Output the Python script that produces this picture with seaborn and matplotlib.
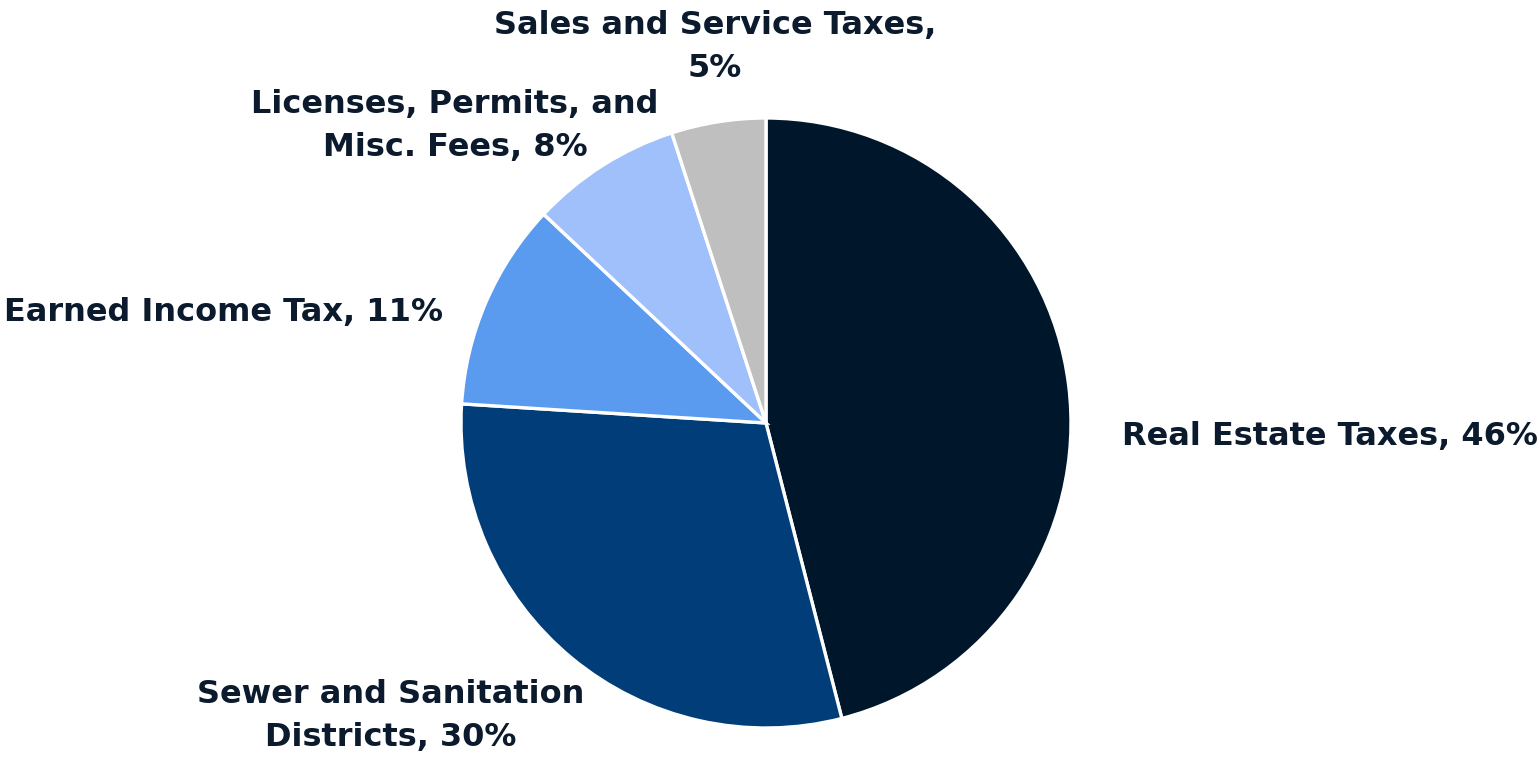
import matplotlib
matplotlib.use("Agg")
import matplotlib.pyplot as plt
import seaborn as sns

sns.set_theme(style="white")
plt.rcParams["font.family"] = ["DejaVu Sans"]

# Revenue sources and their shares (%)
categories = [
    "Real Estate Taxes",
    "Sewer and Sanitation Districts",
    "Earned Income Tax",
    "Licenses, Permits, and Misc. Fees",
    "Sales and Service Taxes",
]
shares = [46, 30, 11, 8, 5]
colors = ["#00172B", "#003D79", "#5B9BEF", "#9FC0FB", "#BFBFBF"]

# Label text as shown beside each wedge
label_texts = [
    "Real Estate Taxes, 46%",
    "Sewer and Sanitation\nDistricts, 30%",
    "Earned Income Tax, 11%",
    "Licenses, Permits, and\nMisc. Fees, 8%",
    "Sales and Service Taxes,\n5%",
]
# Label anchor positions in pixels (x, y from top) and horizontal alignment
label_pos = [
    (1330, 437, "center"),
    (391, 716, "center"),
    (224, 313, "center"),
    (455, 126, "center"),
    (715, 47, "center"),
]

W, H = 1537, 758
fig = plt.figure(figsize=(W / 100, H / 100), dpi=100)
fig.patch.set_facecolor("white")

cx, cy, r = 766, 423, 305
ax = fig.add_axes([(cx - r) / W, (H - cy - r) / H, 2 * r / W, 2 * r / H])
ax.pie(
    shares,
    colors=colors,
    startangle=90,
    counterclock=False,
    radius=1.0,
    wedgeprops=dict(edgecolor="white", linewidth=2.4),
)
ax.set_xlim(-1, 1)
ax.set_ylim(-1, 1)
ax.set_aspect("equal")
ax.axis("off")

for text, (x, y, ha) in zip(label_texts, label_pos):
    fig.text(
        x / W, 1 - y / H, text,
        ha=ha, va="center",
        fontsize=23, fontweight="bold", color="#0B1A2C",
        linespacing=1.5,
    )

fig.savefig("out.png", dpi=100, facecolor="white")
